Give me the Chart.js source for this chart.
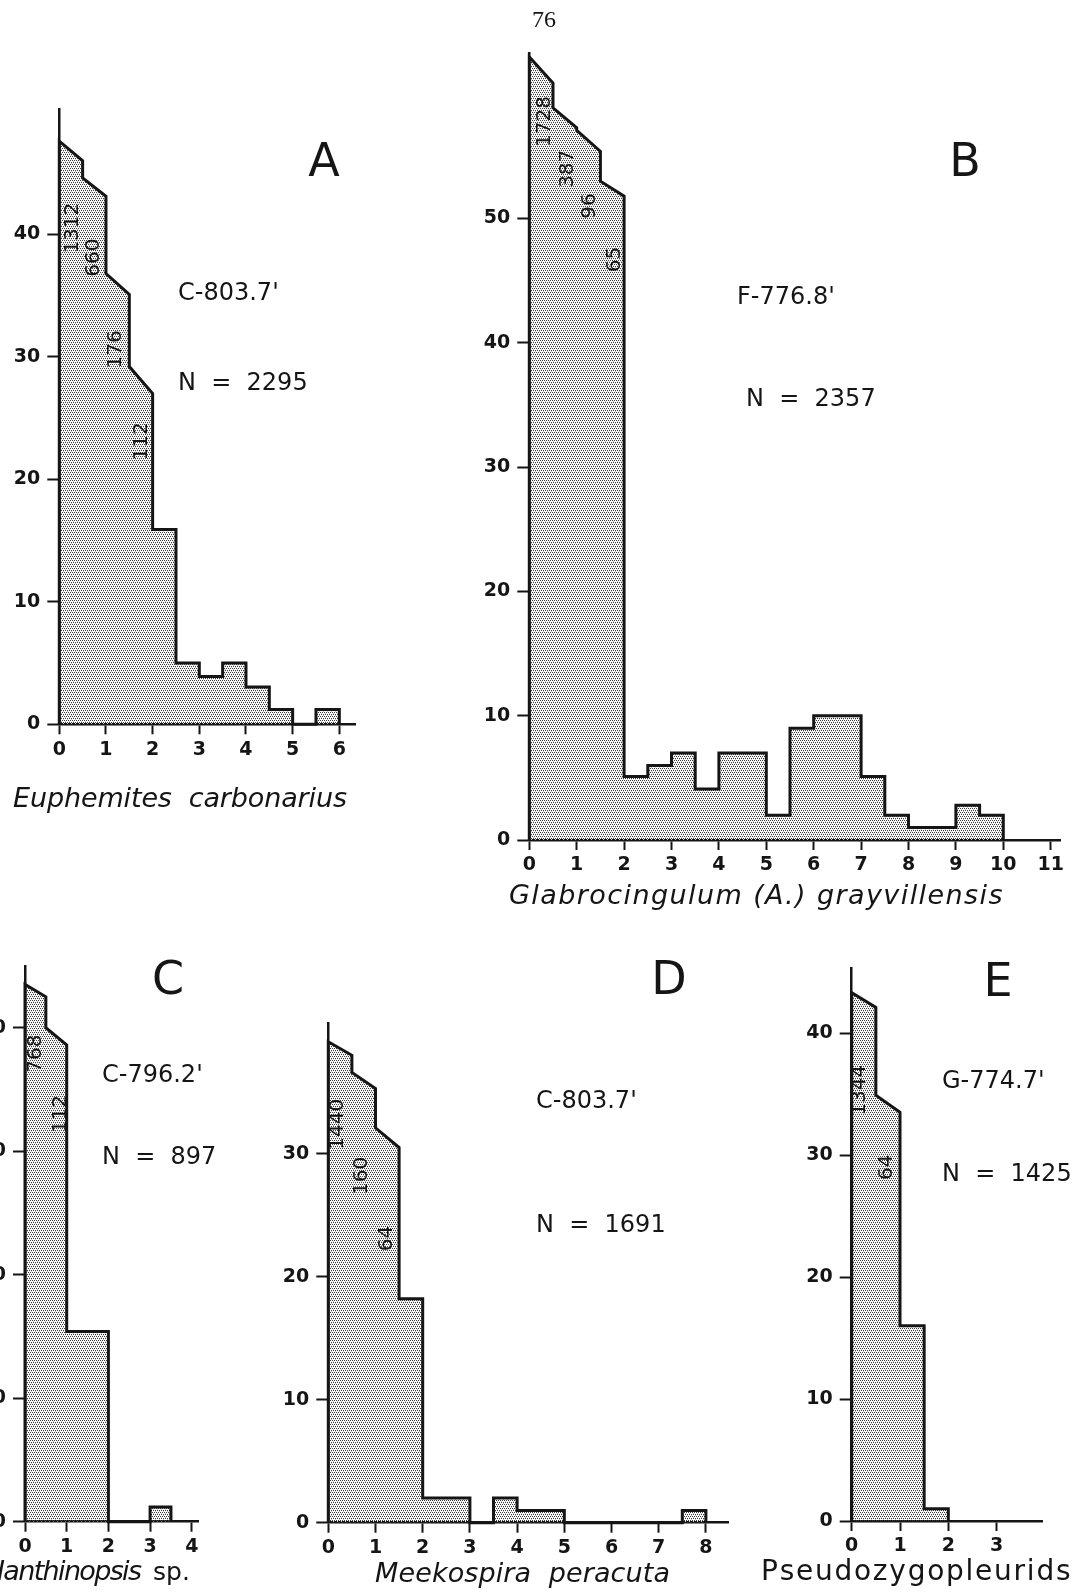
<!DOCTYPE html>
<html>
<head>
<meta charset="utf-8">
<script src="https://cdn.jsdelivr.net/npm/chart.js@4.4.1/dist/chart.umd.min.js"></script>
<style>
  html, body { margin: 0; padding: 0; background: #fff; }
  #page { position: relative; width: 1077px; height: 1596px; overflow: hidden; }
  #page canvas { position: absolute; left: 0; top: 0; }
</style>
</head>
<body>
<div id="page"></div>
<script>
// A - Euphemites carbonarius (bins: left edges .. right edge, sloped tops where start != end)
var aEdges = [0, 0.5, 1, 1.5, 2, 2.5, 3, 3.5, 4, 4.5, 5, 5.5, 6];
var aStart = [47.6, 44.6, 36.8, 29.2, 15.9, 5, 3.9, 5, 3.05, 1.2, 0, 1.2];
var aEnd   = [46.0, 43.1, 35.1, 27.0, 15.9, 5, 3.9, 5, 3.05, 1.2, 0, 1.2];
var aCounts = ["1312", "660", "176", "112"];

// B - Glabrocingulum (A.) grayvillensis
var bEdges = [0, 0.5, 1, 1.5, 2, 2.5, 3, 3.5, 4, 5, 5.5, 6, 7, 7.5, 8, 9, 9.5, 10];
var bStart = [63.0, 58.9, 57.1, 53.0, 5.1, 6, 7, 4.1, 7, 2, 9, 10, 5.1, 2, 1, 2.8, 2];
var bEnd   = [60.9, 57.3, 55.4, 51.8, 5.1, 6, 7, 4.1, 7, 2, 9, 10, 5.1, 2, 1, 2.8, 2];
var bCounts = ["1728", "387", "96", "65"];

// C - Ianthinopsis sp.
var cEdges = [0, 0.5, 1, 2, 3, 3.5];
var cStart = [43.5, 40.0, 15.4, 0, 1.2];
var cEnd   = [42.5, 38.6, 15.4, 0, 1.2];
var cCounts = ["768", "112"];

// D - Meekospira peracuta
var dEdges = [0, 0.5, 1, 1.5, 2, 3, 3.5, 4, 5, 7.5, 8];
var dStart = [39.1, 36.6, 32.1, 18.2, 2, 0, 2, 1, 0, 1];
var dEnd   = [38.0, 35.3, 30.5, 18.2, 2, 0, 2, 1, 0, 1];
var dCounts = ["1440", "160", "64"];

// E - Pseudozygopleurids
var eEdges = [0, 0.5, 1, 1.5, 2];
var eStart = [43.3, 34.9, 16.0, 1.0];
var eEnd   = [42.1, 33.5, 16.0, 1.0];
var eCounts = ["1344", "64"];

var xTicksA = [0, 1, 2, 3, 4, 5, 6];
var xTicksB = [0, 1, 2, 3, 4, 5, 6, 7, 8, 9, 10, 11];
var xTicksC = [0, 1, 2, 3, 4];
var xTicksD = [0, 1, 2, 3, 4, 5, 6, 7, 8];
var xTicksE = [0, 1, 2, 3];
var yTicksA = [0, 10, 20, 30, 40];
var yTicksB = [0, 10, 20, 30, 40, 50];
var yTicksC = [0, 10, 20, 30, 40];
var yTicksD = [0, 10, 20, 30];
var yTicksE = [0, 10, 20, 30, 40];

var PAGE_W = 1077, PAGE_H = 1596;
var INK = "#151515";
var SANS = '"DejaVu Sans", sans-serif';

// stippled fill like the printed screen
var tile = document.createElement("canvas");
tile.width = 4; tile.height = 4;
var tctx = tile.getContext("2d");
tctx.fillStyle = "#3a3a3a";
[[0, 0], [2, 0], [1, 2], [3, 2]].forEach(function (d) { tctx.fillRect(d[0], d[1], 1, 1); });
tctx.fillStyle = "#c8c8c8";
[[1, 1], [3, 3]].forEach(function (d) { tctx.fillRect(d[0], d[1], 1, 1); });
var stipple = tctx.createPattern(tile, "repeat");

function stepPoints(edges, start, end) {
  var pts = [{ x: edges[0], y: 0 }];
  for (var i = 0; i < start.length; i++) {
    pts.push({ x: edges[i], y: start[i] });
    pts.push({ x: edges[i + 1], y: end[i] });
  }
  pts.push({ x: edges[edges.length - 1], y: 0 });
  return pts;
}

// draw text: spaced to span x0..x1, left-aligned at x0 (align "left"), or centred on x0
function fitText(ctx, t) {
  ctx.font = t.font;
  ctx.textBaseline = t.base || "middle";
  if (t.x1 === undefined) {
    ctx.textAlign = t.align || "center";
    ctx.fillText(t.s, t.x0, t.y);
    return;
  }
  ctx.textAlign = "left";
  var chars = Array.from(t.s);
  var w = ctx.measureText(t.s).width;
  var sp = chars.length > 1 ? (t.x1 - t.x0 - w) / (chars.length - 1) : 0;
  var x = t.x0;
  chars.forEach(function (ch) {
    ctx.fillText(ch, x, t.y);
    x += ctx.measureText(ch).width + sp;
  });
}

function makePanel(p) {
  var cv = document.createElement("canvas");
  cv.width = PAGE_W; cv.height = PAGE_H;
  document.getElementById("page").appendChild(cv);
  var W = Math.min(60, p.x0);
  var H = 45;
  var right = p.x0 + p.xMax * p.ux;
  var top = p.y0 - p.yMax * p.uy;

  var labels = {
    id: "labels" + p.name,
    afterDraw: function (chart) {
      var ctx = chart.ctx;
      var xs = chart.scales.x, ys = chart.scales.y;
      ctx.save();
      ctx.fillStyle = INK;
      ctx.font = "20px " + SANS;
      ctx.textAlign = "center";
      ctx.textBaseline = "middle";
      p.counts.forEach(function (c, i) {
        ctx.save();
        ctx.translate(xs.getPixelForValue(p.countAt[i][0]), ys.getPixelForValue(p.countAt[i][1]));
        ctx.rotate(-Math.PI / 2);
        ctx.fillText(c, 0, 0);
        ctx.restore();
      });
      p.texts.forEach(function (t) { fitText(ctx, t); });
      ctx.restore();
    }
  };

  new Chart(cv, {
    type: "line",
    data: {
      datasets: [{
        data: stepPoints(p.edges, p.start, p.end),
        borderColor: INK,
        borderWidth: 3,
        backgroundColor: stipple,
        fill: "origin",
        pointRadius: 0,
        tension: 0,
        clip: false,
        borderJoinStyle: "miter"
      }]
    },
    options: {
      responsive: false,
      animation: false,
      events: [],
      layout: { padding: { left: p.x0 - W, right: PAGE_W - right, top: top, bottom: PAGE_H - p.y0 - H } },
      plugins: { legend: { display: false }, tooltip: { enabled: false } },
      scales: {
        x: {
          type: "linear",
          min: 0,
          max: p.xMax,
          afterFit: function (s) { s.height = H; },
          afterBuildTicks: function (s) { s.ticks = p.xTicks.map(function (v) { return { value: v }; }); },
          border: { color: INK, width: 2.5 },
          grid: { drawOnChartArea: false, drawTicks: true, tickLength: 10, tickWidth: 2, tickColor: INK },
          ticks: { autoSkip: false, maxRotation: 0, padding: 4, color: INK, font: { family: SANS, size: 19, weight: "bold" } }
        },
        y: {
          type: "linear",
          min: 0,
          max: p.yMax,
          afterFit: function (s) { s.width = W; },
          afterBuildTicks: function (s) { s.ticks = p.yTicks.map(function (v) { return { value: v }; }); },
          border: { color: INK, width: 2.5 },
          grid: { drawOnChartArea: false, drawTicks: true, tickLength: 12, tickWidth: 2, tickColor: INK },
          ticks: { padding: 7, color: INK, font: { family: SANS, size: 19, weight: "bold" } }
        }
      }
    },
    plugins: [labels]
  });
}

var ital = "italic 27px " + SANS;
var station = "24px " + SANS;
var big = "46px " + SANS;

makePanel({
  name: "A", edges: aEdges, start: aStart, end: aEnd, xTicks: xTicksA, yTicks: yTicksA,
  x0: 59.3, ux: 46.67, xMax: 6.34, y0: 724.3, uy: 12.25, yMax: 50.2,
  counts: aCounts, countAt: [[0.28, 40.5], [0.73, 38.1], [1.22, 30.6], [1.76, 23.1]],
  texts: [
    { s: "A", x0: 324, y: 164, font: big },
    { s: "C-803.7'", x0: 178, y: 294, font: station, align: "left" },
    { s: "N  =  2295", x0: 178, y: 384, font: station, align: "left" },
    { s: "Euphemites  carbonarius", x0: 13, x1: 347, y: 807, font: ital, base: "alphabetic" }
  ]
});

makePanel({
  name: "B", edges: bEdges, start: bStart, end: bEnd, xTicks: xTicksB, yTicks: yTicksB,
  x0: 529.3, ux: 47.4, xMax: 11.2, y0: 840, uy: 12.43, yMax: 63.3,
  counts: bCounts, countAt: [[0.33, 57.8], [0.82, 54.0], [1.28, 51.0], [1.8, 46.7]],
  texts: [
    { s: "76", x0: 544, y: 21, font: '24px "Liberation Serif", serif' },
    { s: "B", x0: 965, y: 164, font: big },
    { s: "F-776.8'", x0: 737, y: 298, font: station, align: "left" },
    { s: "N  =  2357", x0: 746, y: 400, font: station, align: "left" },
    { s: "Glabrocingulum (A.) grayvillensis", x0: 509, x1: 1003, y: 904, font: ital, base: "alphabetic" }
  ]
});

makePanel({
  name: "C", edges: cEdges, start: cStart, end: cEnd, xTicks: xTicksC, yTicks: yTicksC,
  x0: 25, ux: 41.7, xMax: 4.15, y0: 1521.7, uy: 12.35, yMax: 45,
  counts: cCounts, countAt: [[0.27, 37.9], [0.85, 33]],
  texts: [
    { s: "C", x0: 168, y: 982, font: big },
    { s: "C-796.2'", x0: 102, y: 1076, font: station, align: "left" },
    { s: "N  =  897", x0: 102, y: 1158, font: station, align: "left" },
    { s: "Ianthinopsis", x0: -3, x1: 142, y: 1580, font: ital, base: "alphabetic" },
    { s: "sp.", x0: 153, x1: 190, y: 1580, font: "25px " + SANS, base: "alphabetic" }
  ]
});

makePanel({
  name: "D", edges: dEdges, start: dStart, end: dEnd, xTicks: xTicksD, yTicks: yTicksD,
  x0: 328.3, ux: 47.2, xMax: 8.47, y0: 1522.7, uy: 12.3, yMax: 40.6,
  counts: dCounts, countAt: [[0.21, 32.4], [0.7, 28.2], [1.23, 23.1]],
  texts: [
    { s: "D", x0: 669, y: 982, font: big },
    { s: "C-803.7'", x0: 536, y: 1102, font: station, align: "left" },
    { s: "N  =  1691", x0: 536, y: 1226, font: station, align: "left" },
    { s: "Meekospira  peracuta", x0: 375, x1: 670, y: 1582, font: ital, base: "alphabetic" }
  ]
});

makePanel({
  name: "E", edges: eEdges, start: eStart, end: eEnd, xTicks: xTicksE, yTicks: yTicksE,
  x0: 851.7, ux: 48.3, xMax: 3.94, y0: 1521, uy: 12.2, yMax: 45.3,
  counts: eCounts, countAt: [[0.17, 35.3], [0.73, 29.0]],
  texts: [
    { s: "E", x0: 998, y: 984, font: big },
    { s: "G-774.7'", x0: 942, y: 1082, font: station, align: "left" },
    { s: "N  =  1425", x0: 942, y: 1175, font: station, align: "left" },
    { s: "Pseudozygopleurids", x0: 761, x1: 1070, y: 1580, font: "28px " + SANS, base: "alphabetic" }
  ]
});
</script>
</body>
</html>
